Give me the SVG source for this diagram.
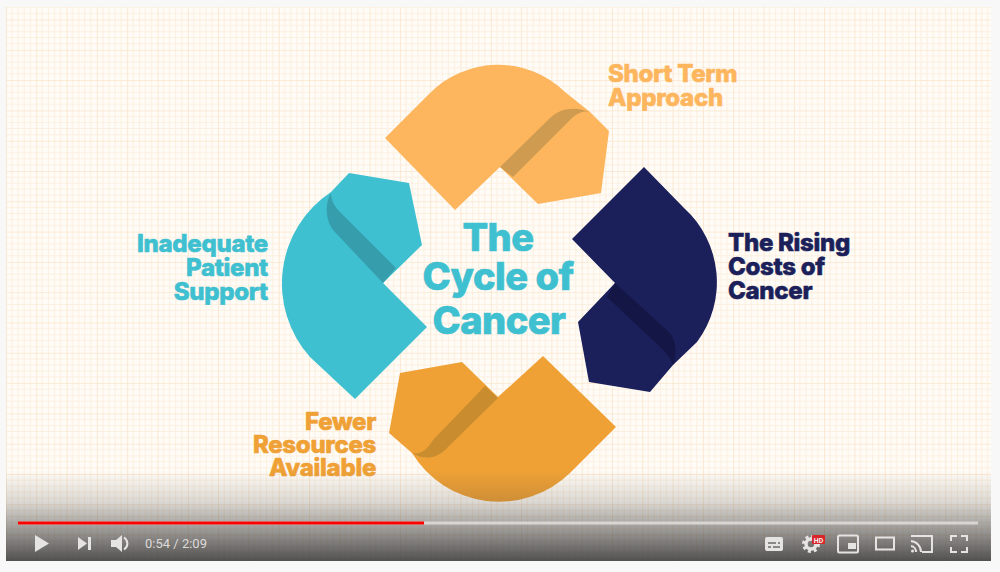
<svg xmlns="http://www.w3.org/2000/svg" width="1000" height="572" viewBox="0 0 1000 572">
  <style>
    .lab { font-family: "Inter", "Liberation Sans", sans-serif; font-weight: 800; font-size: 24px; letter-spacing: -.3px; stroke-width: .6px; stroke-linejoin: round; }
    .mid { font-family: "Inter", "Liberation Sans", sans-serif; font-weight: 800; font-size: 38px; letter-spacing: -.5px; fill: #3fc0d0; stroke: #3fc0d0; stroke-width: .7px; stroke-linejoin: round; text-anchor: middle; }
    .ico { fill: #e6e4e2; }
    .icl { fill: none; stroke: #e6e4e2; stroke-width: 2; }
  </style>
  <defs>
    <pattern id="paper" x="6" y="19.5" width="30.3" height="30.3" patternUnits="userSpaceOnUse">
      <rect width="30.3" height="30.3" fill="#fffcf7"/>
      <path d="M6.06 0V30.3M12.12 0V30.3M18.18 0V30.3M24.24 0V30.3M0 6.06H30.3M0 12.12H30.3M0 18.18H30.3M0 24.24H30.3" stroke="#fcefdf" stroke-width="1" fill="none"/>
      <path d="M0 0V30.3M0 0H30.3" stroke="#fae4ca" stroke-width="1.6" fill="none"/>
    </pattern>
    <linearGradient id="shade" x1="0" y1="0" x2="0" y2="1">
      <stop offset="0" stop-color="#3a3a3a" stop-opacity="0"/>
      <stop offset=".35" stop-color="#3a3a3a" stop-opacity=".18"/>
      <stop offset=".65" stop-color="#3a3a3a" stop-opacity=".5"/>
      <stop offset="1" stop-color="#3a3a3a" stop-opacity=".88"/>
    </linearGradient>
  </defs>

  <rect width="1000" height="572" fill="#f8f8f8"/>
  <rect x="6" y="7" width="985" height="554" fill="url(#paper)"/>

  <g id="short-term">
    <path fill="#fdb65d" d="M385 138 L429 94 A96 96 0 0 1 565 92 L590 112 L609 131 L601 193 L538 204 L500 167 L455 210 Z"/>
    <path fill="#cf9b50" d="M500 167 L550 118 C560 108 575 106 590 112 C582 110 576 114 570 120 L513 177 Z"/>
    <text class="lab" x="608" y="82" fill="#fdb65d" stroke="#fdb65d">Short Term</text>
    <text class="lab" x="608" y="106" fill="#fdb65d" stroke="#fdb65d">Approach</text>
  </g>

  <g id="rising-costs">
    <path fill="#1b1f5a" d="M644 167 L684 208 A100 100 0 0 1 697 342 L673 365 L650 392 L589 382 L578 322 L615 283 L572 239 Z"/>
    <path fill="#141646" d="M615 283 L670 333 C676 340 677 355 673 365 C671 357 664 351 658 345 L607 297 Z"/>
    <text class="lab" x="728" y="251" fill="#1b1f5a" stroke="#1b1f5a">The Rising</text>
    <text class="lab" x="728" y="275" fill="#1b1f5a" stroke="#1b1f5a">Costs of</text>
    <text class="lab" x="728" y="299" fill="#1b1f5a" stroke="#1b1f5a">Cancer</text>
  </g>

  <g id="fewer-resources">
    <path fill="#efa136" d="M543 356 L616 427 L570 473 A102 102 0 0 1 412 453 L389 433 L400 373 L462 362 L498 397 Z"/>
    <path fill="#c98d30" d="M485 386 L498 398 L447 448 C438 458 425 461 412 453 C420 455 427 450 433 440 Z"/>
    <text class="lab" x="376" y="430" text-anchor="end" fill="#efa136" stroke="#efa136">Fewer</text>
    <text class="lab" x="376" y="453" text-anchor="end" fill="#efa136" stroke="#efa136">Resources</text>
    <text class="lab" x="376" y="476" text-anchor="end" fill="#efa136" stroke="#efa136">Available</text>
  </g>

  <g id="patient-support">
    <path fill="#3fc0d0" d="M349 173 L409 183 L422 245 L383 283 L427 327 L355 399 L310 357 A110 110 0 0 1 331 192 Z"/>
    <path fill="#359dac" d="M331 193 C324 205 326 220 333 230 L383 283 L396 268 L340 212 C334 206 331 200 331 193 Z"/>
    <text class="lab" x="268" y="252" text-anchor="end" fill="#3fc0d0" stroke="#3fc0d0">Inadequate</text>
    <text class="lab" x="268" y="276" text-anchor="end" fill="#3fc0d0" stroke="#3fc0d0">Patient</text>
    <text class="lab" x="268" y="300" text-anchor="end" fill="#3fc0d0" stroke="#3fc0d0">Support</text>
  </g>

  <g id="cycle-title">
    <text class="mid" x="498" y="251">The</text>
    <text class="mid" x="498" y="290">Cycle of</text>
    <text class="mid" x="499" y="334">Cancer</text>
  </g>

  <g id="player-bar">
    <rect x="6" y="470" width="985" height="91" fill="url(#shade)"/>
    <rect x="18" y="521.5" width="960" height="3" fill="#d8d6d3"/>
    <rect x="18" y="521.5" width="406" height="3" fill="#ff0000"/>
    <path class="ico" d="M35 535 L49 543.5 L35 552 Z"/>
    <path class="ico" d="M78 537 L87 543.5 L78 550 Z"/>
    <rect class="ico" x="88" y="537" width="3" height="13"/>
    <path class="ico" d="M111 540 H116 L122 535 V552 L116 547 H111 Z"/>
    <path class="icl" d="M124 537.500 A7 7 0 0 1 124 549.500"/>
    <text x="145" y="548" font-family="Roboto, 'Liberation Sans', sans-serif" font-size="13" fill="#dcdad8">0:54 / 2:09</text>
    <rect class="ico" x="765" y="537" width="18" height="14" rx="2"/>
    <path d="M768 543H776M778 543H780M768 547H771M773 547H780" stroke="#6b6967" stroke-width="1.500" fill="none"/>
    <circle cx="811" cy="544" r="5" fill="none" stroke="#e6e4e2" stroke-width="3.500"/>
    <circle cx="811" cy="544" r="7.500" fill="none" stroke="#e6e4e2" stroke-width="3" stroke-dasharray="3 2.900"/>
    <rect x="812" y="535" width="13" height="9" rx="1" fill="#d9242a"/>
    <text x="818.500" y="542.500" text-anchor="middle" font-family="Roboto, 'Liberation Sans', sans-serif" font-size="7" font-weight="700" fill="#f4eeee">HD</text>
    <rect class="icl" x="838" y="535.500" width="20" height="17" rx="1.500"/>
    <rect class="ico" x="848" y="543" width="8" height="6"/>
    <rect class="icl" x="876" y="537.500" width="18" height="12"/>
    <path class="icl" d="M911 536H932V552H922"/>
    <path class="icl" d="M911 541A11 11 0 0 1 921 552M911 546A6 6 0 0 1 916 552"/>
    <circle class="ico" cx="912.500" cy="551" r="1.500"/>
    <path class="icl" d="M951 541V536H957M961 536H967V541M967 547V552H961M957 552H951V547"/>
  </g>
</svg>
